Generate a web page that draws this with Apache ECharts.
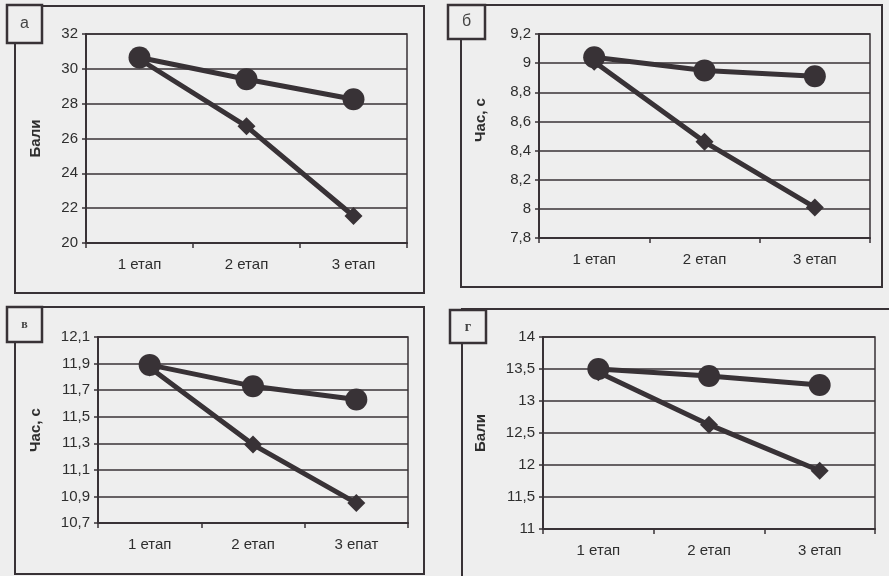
<!DOCTYPE html>
<html><head><meta charset="utf-8">
<script src="https://cdn.jsdelivr.net/npm/echarts@6/dist/echarts.min.js"></script>
<style>html,body{margin:0;padding:0;background:#eeeeee;}#c{width:889px;height:576px;}</style>
</head><body><div id="c"></div>
<script>
const categories = ['1 етап', '2 етап', '3 етап'];
const categoriesV = ['1 етап', '2 етап', '3 епат'];
const panelLetters = ['а', 'б', 'в', 'г'];
const axisNames = ['Бали', 'Час, с', 'Час, с', 'Бали'];
const aCircle = [30.65, 29.4, 28.25];
const aDiamond = [30.55, 26.7, 21.55];
const bCircle = [9.04, 8.95, 8.91];
const bDiamond = [9.01, 8.46, 8.01];
const vCircle = [11.89, 11.73, 11.63];
const vDiamond = [11.87, 11.29, 10.85];
const gCircle = [13.5, 13.39, 13.25];
const gDiamond = [13.45, 12.63, 11.91];
const yTicksA = [20, 22, 24, 26, 28, 30, 32];
const yTicksB = [7.8, 8, 8.2, 8.4, 8.6, 8.8, 9, 9.2];
const yTicksV = [10.7, 10.9, 11.1, 11.3, 11.5, 11.7, 11.9, 12.1];
const yTicksG = [11, 11.5, 12, 12.5, 13, 13.5, 14];

const ink = '#383236';
const bg = '#eeeeee';
const fontFam = '"Liberation Sans", Arial, sans-serif';

const grids = [
  {left: 86, top: 34, width: 321, height: 209},
  {left: 539, top: 34, width: 331, height: 204},
  {left: 98, top: 337, width: 310, height: 186},
  {left: 543, top: 337, width: 332, height: 192}
];
const nameGaps = [43, 51, 55, 55];
const namePads = [[0, 0, 0, 0], [0, 0, 0, 32], [0, 0, 0, 0], [0, 0, 0, 0]];
const yTicks = [yTicksA, yTicksB, yTicksV, yTicksG];
const cats = [categories, categories, categoriesV, categories];
const circles = [aCircle, bCircle, vCircle, gCircle];
const diamonds = [aDiamond, bDiamond, vDiamond, gDiamond];

function fmt(v) { return String(Number(Number(v).toFixed(2))).replace('.', ','); }

const option = {
  backgroundColor: bg,
  animation: false,
  grid: grids.map(g => Object.assign({show: true, borderColor: ink, borderWidth: 1.5, backgroundColor: 'transparent'}, g)),
  xAxis: grids.map((g, i) => ({
    type: 'category', gridIndex: i, data: cats[i], boundaryGap: true,
    axisLine: {show: true, lineStyle: {color: ink, width: 2}},
    axisTick: {show: true, length: 5, lineStyle: {color: ink, width: 1.5}},
    axisLabel: {color: '#2e2e2e', fontSize: 15, fontFamily: fontFam, margin: 14}
  })),
  yAxis: grids.map((g, i) => {
    const t = yTicks[i];
    return {
      type: 'value', gridIndex: i, min: t[0], max: t[t.length - 1],
      name: axisNames[i], nameLocation: 'middle', nameGap: nameGaps[i],
      nameTextStyle: {color: '#2e2e2e', fontSize: 15, fontWeight: 'bold', fontFamily: fontFam, padding: namePads[i]},
      axisLine: {show: true, lineStyle: {color: ink, width: 2}},
      axisTick: {show: true, length: 4, customValues: t, lineStyle: {color: ink, width: 1.5}},
      axisLabel: {color: '#2e2e2e', fontSize: 15, fontFamily: fontFam, margin: 8, customValues: t, formatter: fmt},
      splitLine: {show: true, lineStyle: {color: ink, width: 1.5}}
    };
  }),
  series: [].concat(...grids.map((g, i) => [
    {type: 'line', xAxisIndex: i, yAxisIndex: i, data: diamonds[i], symbol: 'diamond', symbolSize: 18,
     lineStyle: {color: ink, width: 5}, itemStyle: {color: ink}, z: 3},
    {type: 'line', xAxisIndex: i, yAxisIndex: i, data: circles[i], symbol: 'circle', symbolSize: 22,
     lineStyle: {color: ink, width: 5}, itemStyle: {color: ink}, z: 4}
  ])),
  graphic: [
    {type: 'rect', shape: {x: 15, y: 6, width: 409, height: 287}, style: {fill: null, stroke: ink, lineWidth: 2}, z: 1},
    {type: 'rect', shape: {x: 461, y: 5, width: 421, height: 282}, style: {fill: null, stroke: ink, lineWidth: 2}, z: 1},
    {type: 'rect', shape: {x: 15, y: 307, width: 409, height: 267}, style: {fill: null, stroke: ink, lineWidth: 2}, z: 1},
    {type: 'rect', shape: {x: 462, y: 309, width: 440, height: 280}, style: {fill: null, stroke: ink, lineWidth: 2}, z: 1},
    {type: 'rect', shape: {x: 7, y: 5, width: 35, height: 38}, style: {fill: bg, stroke: ink, lineWidth: 2.5}, z: 10},
    {type: 'rect', shape: {x: 448, y: 5, width: 37, height: 34}, style: {fill: bg, stroke: ink, lineWidth: 2.5}, z: 10},
    {type: 'rect', shape: {x: 7, y: 307, width: 35, height: 35}, style: {fill: bg, stroke: ink, lineWidth: 2.5}, z: 10},
    {type: 'rect', shape: {x: 450, y: 310, width: 36, height: 33}, style: {fill: bg, stroke: ink, lineWidth: 2.5}, z: 10},
    {type: 'text', x: 24.5, y: 24, style: {text: panelLetters[0], fill: '#444', font: '16px "Liberation Sans"', align: 'center', verticalAlign: 'middle'}, z: 11},
    {type: 'text', x: 466.5, y: 22, style: {text: panelLetters[1], fill: '#444', font: '16px "Liberation Sans"', align: 'center', verticalAlign: 'middle'}, z: 11},
    {type: 'text', x: 24.5, y: 325, style: {text: panelLetters[2], fill: '#444', font: 'bold 12px "Liberation Serif"', align: 'center', verticalAlign: 'middle'}, z: 11},
    {type: 'text', x: 468, y: 327, style: {text: panelLetters[3], fill: '#444', font: 'bold 14px "Liberation Serif"', align: 'center', verticalAlign: 'middle'}, z: 11}
  ]
};
const chart = echarts.init(document.getElementById('c'), null, {renderer: 'canvas'});
chart.setOption(option);
</script></body></html>
